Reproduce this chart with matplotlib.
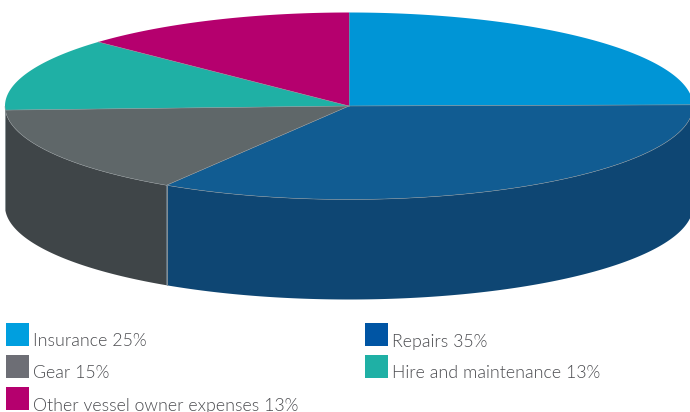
import numpy as np
import matplotlib
matplotlib.use("Agg")
import matplotlib.pyplot as plt
from matplotlib.patches import Rectangle
from matplotlib import font_manager as fm

categories = ["Insurance", "Repairs", "Gear", "Hire and maintenance", "Other vessel owner expenses"]
label_percents = [25, 35, 15, 13, 13]
slice_shares = [24.8, 34.1, 15.4, 12.7, 13.0]
top_colors = ["#0095D6", "#115C92", "#5F6769", "#1FB0A5", "#B5006E"]
side_colors = ["#0B6A99", "#0E4673", "#3F4548", "#167D75", "#800050"]
legend_colors = ["#009FDF", "#0055A4", "#6D6E75", "#1FB0A5", "#B5006E"]

CX, CY, RX, RY, DEPTH = 349, 106, 344, 93.5, 100
EDGE = "#8E9598"

fig = plt.figure(figsize=(6.9, 4.12), dpi=100)
ax = fig.add_axes([0, 0, 1, 1])
ax.set_xlim(0, 690)
ax.set_ylim(412, 0)
ax.axis("off")

def pt(theta):
    return CX + RX * np.sin(theta), CY - RY * np.cos(theta)

fractions = np.cumsum([0] + slice_shares) / sum(slice_shares) * 2 * np.pi
for i, c in enumerate(side_colors):
    a = max(fractions[i], np.pi / 2)
    b = min(fractions[i + 1], 3 * np.pi / 2)
    if b <= a:
        continue
    t = np.linspace(a, b, 200)
    x, y = pt(t)
    ax.fill(np.r_[x, x[::-1]], np.r_[y, y[::-1] + DEPTH], color=c, lw=0, zorder=2)
    for e in (a, b):
        ex, ey = pt(e)
        if np.pi / 2 < e < 3 * np.pi / 2:
            ax.plot([ex, ex], [ey, ey + DEPTH], color=EDGE, lw=0.5, zorder=3)

for i, c in enumerate(top_colors):
    t = np.linspace(fractions[i], fractions[i + 1], 200)
    x, y = pt(t)
    ax.fill(np.r_[CX, x], np.r_[CY, y], color=c, lw=0, zorder=4)
    ax.plot(np.r_[CX, x[0]], np.r_[CY, y[0]], color=EDGE, lw=0.4, zorder=5)
    front = (t > np.pi / 2) & (t < 3 * np.pi / 2)
    ax.plot(x[front], y[front], color=EDGE, lw=0.35, zorder=5)

light = [f for f in fm.findSystemFonts() if "Lato-Light." in f]
fp = fm.FontProperties(fname=light[0], size=12.8) if light else fm.FontProperties(family="Open Sans", weight="light", size=12)

positions = [(6, 323), (365, 323), (6, 355), (365, 355), (6, 387)]
for (lx, ly), cat, v, c in zip(positions, categories, label_percents, legend_colors):
    ax.add_patch(Rectangle((lx, ly), 23, 23, color=c, lw=0, zorder=6))
    ax.text(lx + 27, ly + 23.5, f"{cat} {v}%", fontproperties=fp,
            color="#4A4B4F", va="baseline", ha="left", zorder=6)

fig.savefig("out.png", dpi=100)
